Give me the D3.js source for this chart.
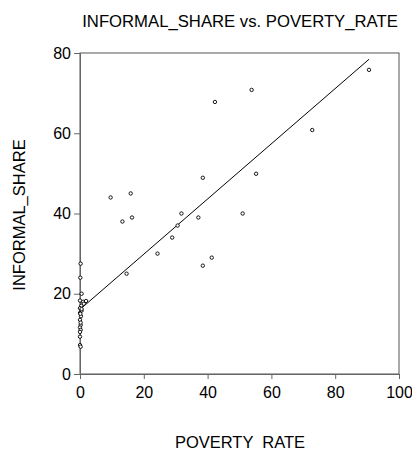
<!DOCTYPE html>
<html>
<head>
<meta charset="utf-8">
<script src="https://cdn.jsdelivr.net/npm/d3@7"></script>
<style>
  body { margin: 0; background: #fff; }
  svg { display: block; font-family: "Liberation Sans", Arial, sans-serif; }
  .axis text { font-size: 16px; fill: #000; }
  .axis path, .axis line { stroke: #666; }
</style>
</head>
<body>
<div id="chart"></div>
<script>
// INFORMAL_SHARE vs. POVERTY_RATE scatter with fitted line
const povertyRate = [90.6, 72.8, 53.8, 42.3, 38.5, 55.2, 51.0, 15.9, 9.6, 16.3, 13.3, 31.8, 37.1, 30.6, 28.9, 24.3, 41.3, 38.5, 14.6,
    0.2, 0.1, 0.5, 0.0, 1.0, 1.9, 1.2, 0.4, 0.0, 0.5, 0.0, 0.3, 0.0, 0.2, 0.0, 0.2, 0.0, 0.0, 0.0, 0.2, 0.5, 0.2, 0.1];
const informalShare = [75.8, 60.8, 70.8, 67.8, 48.9, 49.9, 40.0, 45.0, 44.0, 39.0, 38.0, 40.0, 39.0, 37.0, 34.0, 30.0, 29.0, 27.0, 25.0,
    27.5, 24.0, 20.0, 18.3, 18.0, 18.2, 17.5, 17.0, 16.4, 15.8, 15.2, 14.4, 13.5, 12.2, 11.6, 11.0, 10.5, 9.3, 7.2, 6.8, 16.2, 12.8, 15.0];

// least squares line
const fitIntercept = 16.1;
const fitSlope = 0.688;

const xTicks = [0, 20, 40, 60, 80, 100];
const yTicks = [0, 20, 40, 60, 80];

const width = 412;
const height = 450;
const margin = {top: 53, right: 13, bottom: 76, left: 80};

const points = povertyRate.map((x, i) => ({x: x, y: informalShare[i]}));

const svg = d3.select('#chart')
    .append('svg')
    .attr('width', width)
    .attr('height', height);

const x = d3.scaleLinear()
    .domain([0, 100])
    .range([margin.left, width - margin.right]);

const y = d3.scaleLinear()
    .domain([0, 80])
    .range([height - margin.bottom, margin.top]);

// frame
svg.append('rect')
    .attr('x', x(0))
    .attr('y', y(80))
    .attr('width', x(100) - x(0))
    .attr('height', y(0) - y(80))
    .attr('fill', 'none')
    .attr('stroke', '#555')
    .attr('stroke-width', 1);

svg.append('g')
    .attr('class', 'axis')
    .attr('transform', `translate(0,${y(0)})`)
    .call(d3.axisBottom(x).tickValues(xTicks).tickSize(5).tickPadding(8).tickFormat(d3.format('d')));

svg.append('g')
    .attr('class', 'axis')
    .attr('transform', `translate(${x(0)},0)`)
    .call(d3.axisLeft(y).tickValues(yTicks).tickSize(6).tickPadding(3).tickFormat(d3.format('d')));

// fitted line
const xr = d3.extent(povertyRate);
svg.append('line')
    .attr('x1', x(xr[0]))
    .attr('y1', y(fitIntercept + fitSlope * xr[0]))
    .attr('x2', x(xr[1]))
    .attr('y2', y(fitIntercept + fitSlope * xr[1]))
    .attr('stroke', '#000')
    .attr('stroke-width', 1);

svg.selectAll('.pt')
    .data(points)
    .enter()
    .append('circle')
    .attr('class', 'pt')
    .attr('cx', d => x(d.x))
    .attr('cy', d => y(d.y))
    .attr('r', 1.7)
    .attr('fill', '#fff')
    .attr('stroke', '#000')
    .attr('stroke-width', 0.9);

svg.append('text')
    .attr('x', 240)
    .attr('y', 27)
    .attr('text-anchor', 'middle')
    .attr('font-size', '16.7px')
    .text('INFORMAL_SHARE vs. POVERTY_RATE');

svg.append('text')
    .attr('x', 240)
    .attr('y', 448)
    .attr('text-anchor', 'middle')
    .attr('font-size', '16.5px')
    .style('white-space', 'pre')
    .text('POVERTY  RATE');

svg.append('text')
    .attr('transform', 'rotate(-90)')
    .attr('x', -215)
    .attr('y', 25)
    .attr('text-anchor', 'middle')
    .attr('font-size', '16.5px')
    .text('INFORMAL_SHARE');
</script>
</body>
</html>
